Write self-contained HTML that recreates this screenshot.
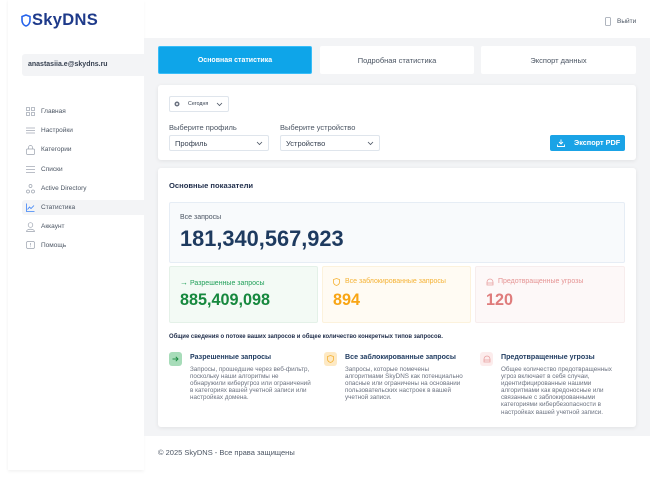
<!DOCTYPE html>
<html><head><meta charset="utf-8">
<style>
*{margin:0;padding:0;box-sizing:border-box}
html,body{width:650px;height:479px;overflow:hidden;background:#fff;font-family:"Liberation Sans","DejaVu Sans",sans-serif;color:#374151}
.a{position:absolute}
.sidebar{left:8px;top:0;width:136px;height:470px;background:#fff;box-shadow:0 2px 3px rgba(0,0,0,0.045),-1px 0 2px rgba(0,0,0,0.02)}
.main{left:144px;top:38px;width:506px;height:398px;background:#f3f4f6}
.tab{top:46px;height:28px;background:#fff;border-radius:2px;font-size:7.5px;color:#4b5563;display:flex;align-items:center;justify-content:center}
.card{background:#fff;border-radius:3px;box-shadow:0 1px 4px rgba(0,0,0,0.08)}
.sel{height:16px;border:1px solid #dfe5ec;border-radius:2px;background:#fff;font-size:7.5px;color:#374151;display:flex;align-items:center;padding-left:5px}
.chev{position:absolute;right:5px;top:4px}
.lbl{font-size:7.5px;color:#4b5563}
.menu{left:22px;width:122px;height:15px;font-size:6.5px;color:#4b5563;display:flex;align-items:center}
.menu svg{margin-left:4px;margin-right:6px}
.box{border-radius:2px}
.desc{font-size:6.3px;line-height:7.1px;color:#6b7280;white-space:nowrap}
.dt{font-size:7.1px;font-weight:bold;color:#1e3a5f}
.ic{width:13px;height:14px;border-radius:3px;display:flex;align-items:center;justify-content:center}
</style></head><body>

<div class="a sidebar"></div>
<div class="a main"></div>

<svg class="a" style="left:21px;top:14px" width="10" height="13" viewBox="0 0 10 13"><path d="M5 1 L9 2.5 V6.5 C9 9.5 7 11.5 5 12 C3 11.5 1 9.5 1 6.5 V2.5 Z" fill="none" stroke="#2563eb" stroke-width="1.6"/></svg>
<div class="a" style="left:32px;top:11px;font-size:16.5px;font-weight:bold;color:#1e3a8a;letter-spacing:0.3px">SkyDNS</div>

<svg class="a" style="left:605px;top:17px" width="6" height="9" viewBox="0 0 6 9"><rect x="0.5" y="0.5" width="5" height="8" rx="1" fill="none" stroke="#9ca3af" stroke-width="0.8"/></svg>
<div class="a" style="left:617px;top:18px;font-size:6.5px;color:#4b5563">Выйти</div>

<div class="a" style="left:22px;top:54px;width:122px;height:22px;background:#f3f4f6;border-radius:3px 0 0 3px"></div>
<div class="a" style="left:28px;top:61px;font-size:7px;font-weight:bold;color:#374151">anastasiia.e@skydns.ru</div>

<div class="a menu" style="top:104px"><svg width="9" height="9" viewBox="0 0 9 9"><g fill="none" stroke="#9ca3af" stroke-width="0.7"><rect x="0.5" y="0.5" width="3" height="3"/><rect x="5.5" y="0.5" width="3" height="3"/><rect x="0.5" y="5.5" width="3" height="3"/><rect x="5.5" y="5.5" width="3" height="3"/></g></svg>Главная</div>
<div class="a menu" style="top:123px"><svg width="9" height="9" viewBox="0 0 9 9"><g stroke="#9ca3af" stroke-width="0.7"><line x1="0" y1="2" x2="9" y2="2"/><line x1="0" y1="4.5" x2="9" y2="4.5"/><line x1="0" y1="7" x2="9" y2="7"/></g></svg>Настройки</div>
<div class="a menu" style="top:142px"><svg width="9" height="10" viewBox="0 0 9 10"><g fill="none" stroke="#9ca3af" stroke-width="0.7"><rect x="0.5" y="4" width="8" height="5.5" rx="1"/><path d="M2.5 4 V2.5 a2 2 0 0 1 4 0 V4"/></g></svg>Категории</div>
<div class="a menu" style="top:162px"><svg width="9" height="9" viewBox="0 0 9 9"><g stroke="#9ca3af" stroke-width="0.7"><line x1="0" y1="1.5" x2="9" y2="1.5"/><line x1="0" y1="4.5" x2="9" y2="4.5"/><line x1="0" y1="7.5" x2="9" y2="7.5"/></g></svg>Списки</div>
<div class="a menu" style="top:181px"><svg width="9" height="10" viewBox="0 0 9 10"><g fill="none" stroke="#9ca3af" stroke-width="0.7"><circle cx="4.5" cy="2" r="1.5"/><circle cx="2" cy="7.5" r="1.5"/><circle cx="7" cy="7.5" r="1.5"/></g></svg>Active Directory</div>
<div class="a menu" style="top:200px;background:#f3f4f6;border-radius:3px 0 0 3px"><svg width="9" height="9" viewBox="0 0 9 9"><g fill="none" stroke="#3b82f6" stroke-width="0.8"><path d="M0.5 0.5 V8.5 H8.5"/><path d="M1.5 6.5 L3.5 4 L5 5.5 L8 2.5"/></g></svg>Статистика</div>
<div class="a menu" style="top:219px"><svg width="9" height="10" viewBox="0 0 9 10"><g fill="none" stroke="#9ca3af" stroke-width="0.7"><circle cx="4.5" cy="3" r="2.3"/><path d="M0.5 9.5 C0.5 6.5 8.5 6.5 8.5 9.5 Z"/></g></svg>Аккаунт</div>
<div class="a menu" style="top:238px"><svg width="9" height="9" viewBox="0 0 9 9"><g fill="none" stroke="#9ca3af" stroke-width="0.7"><rect x="0.5" y="0.5" width="8" height="7" rx="1.5"/></g><line x1="4.5" y1="2" x2="4.5" y2="4.5" stroke="#9ca3af" stroke-width="0.7"/><circle cx="4.5" cy="5.8" r="0.4" fill="#9ca3af"/></svg>Помощь</div>

<div class="a tab" style="left:158px;width:154px;background:#0ea5e9;color:#fff;font-weight:bold;font-size:7px;border:1px solid #38bdf8">Основная статистика</div>
<div class="a tab" style="left:320px;width:154px">Подробная статистика</div>
<div class="a tab" style="left:481px;width:155px">Экспорт данных</div>

<div class="a card" style="left:158px;top:85px;width:478px;height:75px"></div>
<div class="a sel" style="left:169px;top:96px;width:60px;height:16px;font-size:5.3px;padding-left:18px">Сегодня
<svg class="chev" style="top:5px" width="7" height="5" viewBox="0 0 7 5"><path d="M1 1 L3.5 3.5 L6 1" fill="none" stroke="#4b5563" stroke-width="0.8"/></svg></div>
<svg class="a" style="left:174px;top:101px" width="6" height="6" viewBox="0 0 6 6"><circle cx="3" cy="3" r="2.5" fill="#6b7280"/><circle cx="3" cy="3" r="1" fill="#fff"/></svg>
<div class="a lbl" style="left:169px;top:123px">Выберите профиль</div>
<div class="a lbl" style="left:280px;top:123px">Выберите устройство</div>
<div class="a sel" style="left:169px;top:135px;width:100px">Профиль<svg class="chev" style="top:5px" width="7" height="5" viewBox="0 0 7 5"><path d="M1 1 L3.5 3.5 L6 1" fill="none" stroke="#4b5563" stroke-width="0.8"/></svg></div>
<div class="a sel" style="left:280px;top:135px;width:100px">Устройство<svg class="chev" style="top:5px" width="7" height="5" viewBox="0 0 7 5"><path d="M1 1 L3.5 3.5 L6 1" fill="none" stroke="#4b5563" stroke-width="0.8"/></svg></div>
<div class="a" style="left:550px;top:135px;width:75px;height:16px;background:#1aa3e6;border-radius:2px;color:#fff;font-size:7.3px;font-weight:bold;padding-left:24px;line-height:16px">Экспорт PDF</div>
<svg class="a" style="left:557px;top:139px" width="8" height="8" viewBox="0 0 8 8"><g fill="none" stroke="#fff" stroke-width="0.9"><path d="M4 0.5 V5"/><path d="M2 3 L4 5 L6 3"/><path d="M0.5 5.5 V7.5 H7.5 V5.5"/></g></svg>

<div class="a card" style="left:158px;top:168px;width:478px;height:259px"></div>
<div class="a" style="left:169px;top:181px;font-size:7.6px;font-weight:bold;color:#1f2d4a">Основные показатели</div>

<div class="a box" style="left:169px;top:202px;width:456px;height:61px;background:#f8fafc;border:1px solid #e6edf5"></div>
<div class="a" style="left:180px;top:214px;font-size:7px;color:#4b5563">Все запросы</div>
<div class="a" style="left:180px;top:226px;font-size:21.8px;font-weight:bold;color:#1e3a5f;line-height:26px">181,340,567,923</div>

<div class="a box" style="left:169px;top:266px;width:149px;height:57px;background:#f3faf5;border:1px solid #e4f1e8"></div>
<div class="a" style="left:180px;top:278px;font-size:7px;color:#22a05a"><span style="font-size:8px">→</span> Разрешенные запросы</div>
<div class="a" style="left:180px;top:291px;font-size:16.2px;font-weight:bold;color:#16883e">885,409,098</div>

<div class="a box" style="left:322px;top:266px;width:149px;height:57px;background:#fffbf3;border:1px solid #fcf2dc"></div>
<svg class="a" style="left:333px;top:278px" width="7" height="8" viewBox="0 0 7 8"><path d="M3.5 0.5 L6.5 1.5 V4 C6.5 6 5 7 3.5 7.5 C2 7 0.5 6 0.5 4 V1.5 Z" fill="none" stroke="#f5b234" stroke-width="0.8"/></svg>
<div class="a" style="left:345px;top:278px;font-size:7px;color:#f5b234">Все заблокированные запросы</div>
<div class="a" style="left:333px;top:291px;font-size:16.2px;font-weight:bold;color:#f8a514">894</div>

<div class="a box" style="left:475px;top:266px;width:150px;height:57px;background:#fdf8f8;border:1px solid #f7eded"></div>
<svg class="a" style="left:486px;top:278px" width="8" height="8" viewBox="0 0 8 8"><g fill="none" stroke="#e8a0a0" stroke-width="0.8"><path d="M1 7 V4 a3 3 0 0 1 6 0 V7 Z"/><line x1="1" y1="5" x2="7" y2="5"/></g></svg>
<div class="a" style="left:498px;top:278px;font-size:7px;color:#e59494">Предотвращенные угрозы</div>
<div class="a" style="left:486px;top:291px;font-size:16.2px;font-weight:bold;color:#df7c7c">120</div>

<div class="a" style="left:169px;top:334px;font-size:5.95px;font-weight:bold;color:#1f2d4a">Общие сведения о потоке ваших запросов и общее количество конкретных типов запросов.</div>

<div class="a ic" style="left:169px;top:352px;background:#a7dcb9"><svg width="7" height="6" viewBox="0 0 7 6"><g fill="none" stroke="#16883e" stroke-width="0.9"><path d="M0.5 3 H6"/><path d="M3.8 0.8 L6 3 L3.8 5.2"/></g></svg></div>
<div class="a dt" style="left:190px;top:353px">Разрешенные запросы</div>
<div class="a desc" style="left:190px;top:366px">Запросы, прошедшие через веб-фильтр,<br>поскольку наши алгоритмы не<br>обнаружили киберугроз или ограничений<br>в категориях вашей учетной записи или<br>настройках домена.</div>

<div class="a ic" style="left:324px;top:352px;background:#fde9c4"><svg width="7" height="8" viewBox="0 0 7 8"><path d="M3.5 0.5 L6.5 1.5 V4 C6.5 6 5 7 3.5 7.5 C2 7 0.5 6 0.5 4 V1.5 Z" fill="none" stroke="#f5b234" stroke-width="0.8"/></svg></div>
<div class="a dt" style="left:345px;top:353px">Все заблокированные запросы</div>
<div class="a desc" style="left:345px;top:366px">Запросы, которые помечены<br>алгоритмами SkyDNS как потенциально<br>опасные или ограничены на основании<br>пользовательских настроек в вашей<br>учетной записи.</div>

<div class="a ic" style="left:480px;top:352px;background:#fcecec"><svg width="8" height="8" viewBox="0 0 8 8"><g fill="none" stroke="#e8a0a0" stroke-width="0.8"><path d="M1 7 V4 a3 3 0 0 1 6 0 V7 Z"/><line x1="1" y1="5" x2="7" y2="5"/></g></svg></div>
<div class="a dt" style="left:501px;top:353px">Предотвращенные угрозы</div>
<div class="a desc" style="left:501px;top:366px">Общее количество предотвращенных<br>угроз включает в себя случаи,<br>идентифицированные нашими<br>алгоритмами как вредоносные или<br>связанные с заблокированными<br>категориями кибербезопасности в<br>настройках вашей учетной записи.</div>

<div class="a" style="left:158px;top:448px;font-size:7.5px;color:#4b5563">© 2025 SkyDNS - Все права защищены</div>

</body></html>
